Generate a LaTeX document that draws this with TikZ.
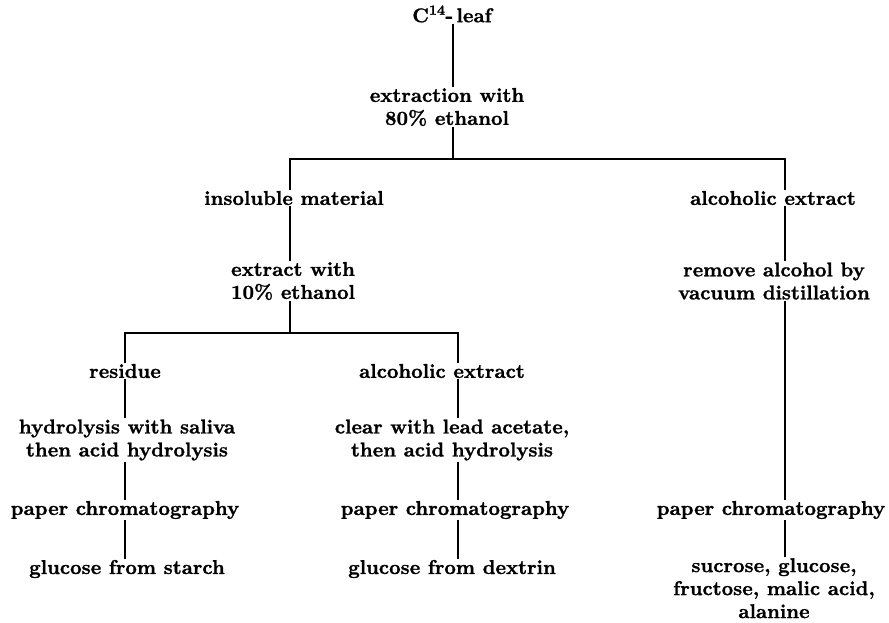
\documentclass[tikz,border=0pt]{standalone}
\usepackage{fontspec}
\setmainfont{lmroman10-regular.otf}[BoldFont=lmroman10-bold.otf, BoldFeatures={FakeBold=1.2}]
\begin{document}
\begin{tikzpicture}[x=1pt,y=-1pt,
  lbl/.style={font=\fontsize{20}{23}\selectfont\bfseries, align=center, inner sep=1pt},
  conn/.style={line width=1.4pt}]
\useasboundingbox (0,0) rectangle (889,623);
\coordinate (cT) at (453,0);
\coordinate (cA) at (290,0);
\coordinate (cL) at (125,0);
\coordinate (cM) at (458,0);
\coordinate (cR) at (785,0);
\node[lbl] (leaf) at (452,14) {C\textsuperscript{14}-\,leaf};
\node[lbl] (ext80) at (447,107) {extraction with\\80\% ethanol};
\coordinate (h1) at (453,159);
\node[lbl] (insol) at (294,198) {insoluble material};
\node[lbl] (alcR) at (773,198) {alcoholic extract};
\node[lbl] (ext10) at (293,281) {extract with\\10\% ethanol};
\node[lbl] (remove) at (774,281) {remove alcohol by\\vacuum distillation};
\coordinate (h2) at (290,333);
\node[lbl] (resid) at (125,371) {residue};
\node[lbl] (alcM) at (442,371) {alcoholic extract};
\node[lbl] (hydro) at (127,440) {hydrolysis with saliva\\then acid hydrolysis};
\node[lbl] (clear) at (452,440) {clear with lead acetate,\\then acid hydrolysis};
\node[lbl] (pcL) at (125,510) {paper chromatography};
\node[lbl] (pcM) at (455,510) {paper chromatography};
\node[lbl] (pcR) at (771,510) {paper chromatography};
\node[lbl] (gsL) at (127,569) {glucose from starch};
\node[lbl] (gdM) at (452,569) {glucose from dextrin};
\node[lbl,anchor=north] (sugR) at (774,557) {sucrose, glucose,\\fructose, malic acid,\\alanine};
% connectors
\draw[conn] (leaf.south -| cT) -- (ext80.north -| cT);
\draw[conn] (ext80.south -| cT) -- (h1);
\draw[conn] (h1) -- (h1 -| cA) -- (insol.north -| cA);
\draw[conn] (h1) -- (h1 -| cR) -- (alcR.north -| cR);
\draw[conn] (insol.south -| cA) -- (ext10.north -| cA);
\draw[conn] (ext10.south -| cA) -- (h2);
\draw[conn] (h2) -- (h2 -| cL) -- (resid.north -| cL);
\draw[conn] (h2) -- (h2 -| cM) -- (alcM.north -| cM);
\draw[conn] (resid.south -| cL) -- (hydro.north -| cL);
\draw[conn] (hydro.south -| cL) -- (pcL.north -| cL);
\draw[conn] (pcL.south -| cL) -- (gsL.north -| cL);
\draw[conn] (alcM.south -| cM) -- (clear.north -| cM);
\draw[conn] (clear.south -| cM) -- (pcM.north -| cM);
\draw[conn] (pcM.south -| cM) -- (gdM.north -| cM);
\draw[conn] (alcR.south -| cR) -- (remove.north -| cR);
\draw[conn] (remove.south -| cR) -- (pcR.north -| cR);
\draw[conn] (pcR.south -| cR) -- (sugR.north -| cR);
\end{tikzpicture}
\end{document}
